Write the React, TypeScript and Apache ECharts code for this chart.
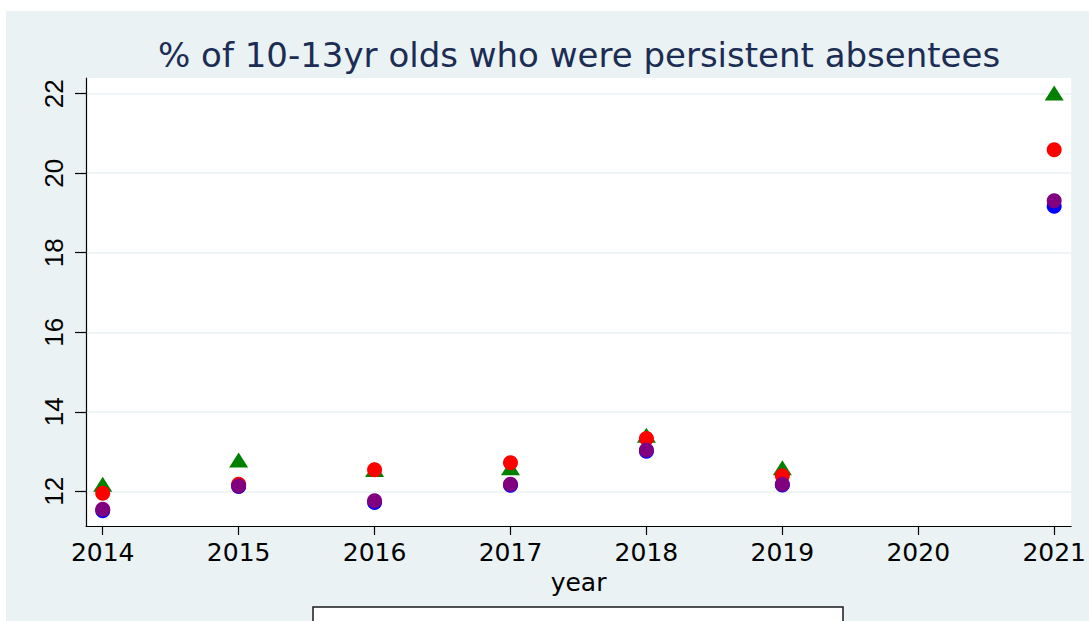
import React, { useEffect, useRef } from "react";
import * as echarts from "echarts";

const years = [2014, 2015, 2016, 2017, 2018, 2019, 2021];
const greenTriangle = [12.18, 12.79, 12.55, 12.59, 13.41, 12.59, 22.02];
const redCircle = [11.95, 12.18, 12.54, 12.72, 13.33, 12.39, 20.59];
const blueCircle = [11.51, 12.12, 11.72, 12.15, 13.01, 12.16, 19.17];
const purpleCircle = [11.55, 12.13, 11.76, 12.18, 13.04, 12.18, 19.31];
const xTicks = [2014, 2015, 2016, 2017, 2018, 2019, 2020, 2021];
const yTicks = [12, 14, 16, 18, 20, 22];
const titleText = "% of 10-13yr olds who were persistent absentees";
const xName = "year";

const pairs = (vals: number[]) => years.map((y, i) => [y, vals[i]]);

export default function App() {
  const ref = useRef<HTMLDivElement>(null);
  useEffect(() => {
    if (!ref.current) return;
    const chart = echarts.init(ref.current, undefined, { renderer: "svg" });
    const axisColor = "#000";
    chart.setOption({
      animation: false,
      backgroundColor: "transparent",
      title: {
        text: titleText,
        left: 153,
        top: 33,
        textStyle: {
          fontFamily: "DejaVu Sans",
          fontSize: 34,
          fontWeight: "normal",
          color: "#1c2d55",
        },
      },
      grid: {
        left: 86,
        top: 78,
        right: 17,
        bottom: 95,
        show: true,
        backgroundColor: "#ffffff",
        borderWidth: 0,
      },
      xAxis: {
        type: "value",
        min: 2013.877,
        max: 2021.125,
        name: xName,
        nameLocation: "middle",
        nameGap: 34,
        nameTextStyle: { fontFamily: "DejaVu Sans", fontSize: 25, color: "#000" },
        axisLine: { show: true, onZero: false, lineStyle: { color: axisColor, width: 1.2 } },
        axisTick: { show: true, length: 9, customValues: xTicks, lineStyle: { color: axisColor, width: 1.2 } },
        axisLabel: {
          customValues: xTicks,
          formatter: (v: number) => String(v),
          fontFamily: "DejaVu Sans",
          fontSize: 25,
          color: "#000",
          margin: 14,
        },
        splitLine: { show: false },
      },
      yAxis: {
        type: "value",
        min: 11.127,
        max: 22.395,
        axisLine: { show: true, onZero: false, lineStyle: { color: axisColor, width: 1.2 } },
        axisTick: { show: true, length: 11, customValues: yTicks, lineStyle: { color: axisColor, width: 1.2 } },
        axisLabel: {
          customValues: yTicks,
          rotate: 90,
          formatter: (v: number) => String(v),
          fontFamily: "Liberation Sans",
          fontSize: 26,
          color: "#000",
          margin: 19,
        },
        splitLine: { show: true, lineStyle: { color: "#eaf2f3", width: 1.5 } },
      },
      graphic: [
        {
          type: "rect",
          shape: { x: 313, y: 607, width: 530, height: 40 },
          style: { fill: "#ffffff", stroke: "#1a1a1a", lineWidth: 1.5 },
          z: 10,
        },
      ],
      series: [
        {
          name: "Series A",
          type: "scatter",
          symbol: "triangle",
          symbolSize: [19, 15],
          itemStyle: { color: "#008000", opacity: 1 },
          data: pairs(greenTriangle),
        },
        {
          name: "Series B",
          type: "scatter",
          symbol: "circle",
          symbolSize: 15,
          itemStyle: { color: "#ff0000", opacity: 1 },
          data: pairs(redCircle),
        },
        {
          name: "Series C",
          type: "scatter",
          symbol: "circle",
          symbolSize: 15,
          itemStyle: { color: "#0000ff", opacity: 1 },
          data: pairs(blueCircle),
        },
        {
          name: "Series D",
          type: "scatter",
          symbol: "circle",
          symbolSize: 15,
          itemStyle: { color: "#800080", opacity: 1 },
          data: pairs(purpleCircle),
        },
      ],
    });
    return () => chart.dispose();
  }, []);

  return (
    <div style={{ position: "absolute", left: 0, top: 0, width: 1089, height: 621, background: "#ffffff", overflow: "hidden" }}>
      <div style={{ position: "absolute", left: 6, top: 11, width: 1083, height: 610, background: "#eaf2f3" }} />
      <div ref={ref} style={{ position: "absolute", left: 0, top: 0, width: 1089, height: 621 }} />
    </div>
  );
}
